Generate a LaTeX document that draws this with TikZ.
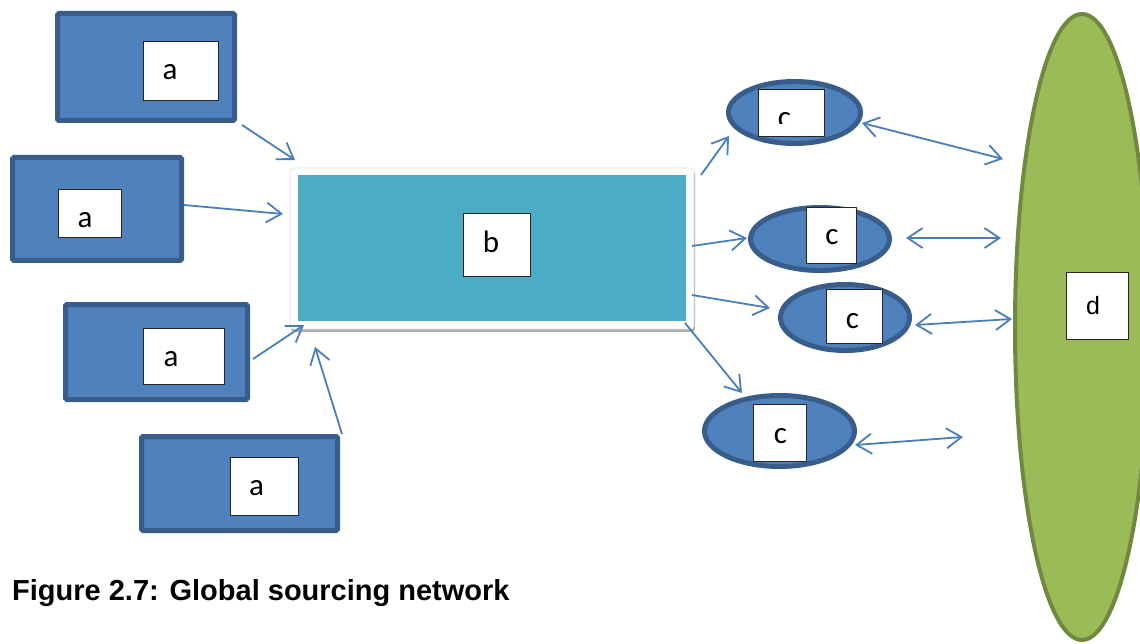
\documentclass[tikz,border=0pt]{standalone}
\usepackage{fontspec}
\setmainfont{Liberation Sans}
\newfontfamily\labelfont{Carlito}
\usetikzlibrary{arrows.meta,shapes.geometric,shadows,calc}

\definecolor{boxblue}{HTML}{4F81BD}
\definecolor{boxedge}{HTML}{385D8A}
\definecolor{hubteal}{HTML}{4BACC6}
\definecolor{leaf}{HTML}{9BBB59}
\definecolor{leafedge}{HTML}{71893F}
\definecolor{link}{HTML}{4A7EBB}

\tikzset{
  supplier/.style={rectangle, draw=boxedge, fill=boxblue, line width=5pt,
    rounded corners=1.5pt, inner sep=0pt, outer sep=0pt},
  site/.style={ellipse, draw=boxedge, fill=boxblue, line width=5pt,
    inner sep=0pt, outer sep=0pt},
  tag/.style={rectangle, draw=black!85, fill=white, line width=0.9pt,
    inner sep=0pt, outer sep=0pt},
  lbl/.style={anchor=base, inner sep=0pt, font=\labelfont\fontsize{31}{31}\selectfont},
  flow/.style={draw=link, line width=1.8pt, -{Straight Barb[length=15pt,width=20pt]}},
  twoway/.style={draw=link, line width=1.8pt,
    {Straight Barb[length=15pt,width=20pt]}-{Straight Barb[length=15pt,width=20pt]}},
}

\begin{document}
\begin{tikzpicture}[x=1pt, y=-1pt]
  \useasboundingbox (0,0) rectangle (1140,644);
  \fill[white] (0,0) rectangle (1140,644);

  % the market on the right
  \node[ellipse, draw=leafedge, fill=leaf, line width=4pt, inner sep=0pt, outer sep=0pt,
        minimum width=134pt, minimum height=626pt] (d) at (1082,327) {};
  \node[tag, minimum width=62pt, minimum height=67pt] (dbox) at (1097,305.5) {};
  \node[anchor=base, inner sep=0pt, font=\fontsize{25}{25}\selectfont] (td) at (1093,314) {d};

  % suppliers
  \node[supplier, minimum width=177pt, minimum height=107pt] (a1) at (146,67) {};
  \node[tag, minimum width=75pt, minimum height=59pt] (a1box) at (180.5,70.5) {};
  \node[lbl] (ta1) at (170,80) {a};

  \node[supplier, minimum width=169pt, minimum height=103pt] (a2) at (97,209) {};
  \node[tag, minimum width=63pt, minimum height=48pt] (a2box) at (89.5,213) {};
  \node[lbl] (ta2) at (85,228) {a};

  \node[supplier, minimum width=182pt, minimum height=95pt] (a3) at (156.5,352) {};
  \node[tag, minimum width=81pt, minimum height=56pt] (a3box) at (183.5,356) {};
  \node[lbl] (ta3) at (171,366) {a};

  \node[supplier, minimum width=196pt, minimum height=94pt] (a4) at (239.5,483.5) {};
  \node[tag, minimum width=68pt, minimum height=58pt] (a4box) at (264,486) {};
  \node[lbl] (ta4) at (256.5,495) {a};

  % central hub
  \node[rectangle, draw=black!12, fill=white, line width=0.6pt, rounded corners=3pt,
        inner sep=0pt, outer sep=0pt, minimum width=404pt, minimum height=161pt,
        drop shadow={shadow xshift=1pt, shadow yshift=-3pt, fill=black!45, opacity=0.7}]
        (b) at (492,248.5) {};
  \node[rectangle, fill=hubteal, inner sep=0pt, outer sep=0pt,
        minimum width=388pt, minimum height=146pt] (bfill) at (492,248) {};
  \node[tag, minimum width=67pt, minimum height=63pt] (bbox) at (496.5,244.5) {};
  \node[lbl] (tb) at (491,253) {b};

  % distribution sites
  \node[site, minimum width=132pt, minimum height=62pt] (c1) at (794.5,112.5) {};
  \node[tag, minimum width=66pt, minimum height=47pt] (c1box) at (791,112.5) {};
  \begin{scope}
    \clip ($(c1box.north west)+(1,1)$) rectangle ($(c1box.north east)+(-1,35)$);
    \node[lbl] (tc1) at (784.5,128) {c};
  \end{scope}

  \node[site, minimum width=139pt, minimum height=63pt] (c2) at (820,239) {};
  \node[tag, minimum width=50pt, minimum height=56pt] (c2box) at (831,235) {};
  \node[lbl] (tc2) at (832,245) {c};

  \node[site, minimum width=129pt, minimum height=66pt] (c3) at (845,317.5) {};
  \node[tag, minimum width=56pt, minimum height=54pt] (c3box) at (854,316) {};
  \node[lbl] (tc3) at (852.5,328) {c};

  \node[site, minimum width=150pt, minimum height=71pt] (c4) at (779.5,431) {};
  \node[tag, minimum width=53pt, minimum height=57pt] (c4box) at (779.5,432.5) {};
  \node[lbl] (tc4) at (780.5,443) {c};

  % supply flows into the hub
  \draw[flow] ($(a1.south east)+(7.5,4.5)$) -- ($(b.north west)+(5,-8)$);
  \draw[flow] ($(a2.east)+(2.5,-4)$) -- ($(b.north west)+(-7,46)$);
  \draw[flow] ($(a3.east)+(5.5,7)$) -- ($(b.south west)+(14,-4)$);
  \draw[flow] ($(a4.north east)+(4.5,-2.5)$) -- ($(b.south west)+(25,18)$);

  % hub out to the sites
  \draw[flow] ($(b.north east)+(7,7)$) -- ($(c1.west)+(0.5,23.5)$);
  \draw[flow] ($(b.east)+(-2,-2.5)$) -- ($(c2.west)+(-3.5,-1)$);
  \draw[flow] ($(b.east)+(-2,46.5)$) -- ($(c3.west)+(-10.5,-9.5)$);
  \draw[flow] ($(b.south east)+(-9,-6)$) -- ($(c4.north)+(-37.5,-2.5)$);

  % two-way links between sites and market
  \draw[twoway] ($(c1.east)+(1.5,10.5)$) -- ($(d.west)+(-12,-168)$);
  \draw[twoway] ($(c2.east)+(16.5,-1)$) -- ($(d.west)+(-14,-89)$);
  \draw[twoway] ($(c3.east)+(5.5,7.5)$) -- ($(d.west)+(-3,-8)$);
  \draw[twoway] ($(c4.east)+(0.5,14)$) -- ($(d.west)+(-52,110)$);

  % caption
  \node[anchor=base west, inner sep=0pt, font=\bfseries\fontsize{29}{30}\selectfont]
        (caption) at (12,600) {Figure 2.7: Global sourcing network};
\end{tikzpicture}
\end{document}
